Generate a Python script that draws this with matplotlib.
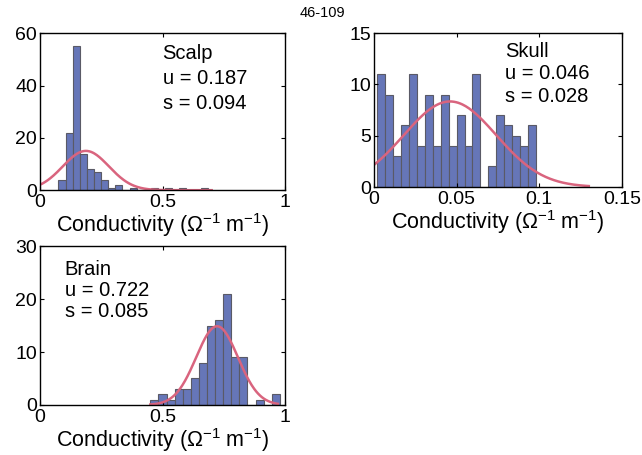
import numpy as np
import matplotlib
matplotlib.use("Agg")
from matplotlib import pyplot as plt

plt.rcParams['font.family'] = ['Liberation Sans', 'DejaVu Sans']
plt.rcParams['mathtext.fontset'] = 'custom'
plt.rcParams['mathtext.rm'] = 'Liberation Sans'
plt.rcParams['mathtext.it'] = 'Liberation Sans:italic'

# histogram counts (left edge of first bin, bin width, counts)
scalp_start, scalp_width = 0.075, 0.029
scalp_counts = [4, 22, 55, 14, 8, 7, 4, 1, 2, 0, 1, 0, 0, 1, 0, 1, 0, 1, 0, 0, 1]
scalp_u, scalp_s = 0.187, 0.094

skull_start, skull_width = 0.002, 0.0048
skull_counts = [11, 9, 3, 6, 11, 4, 9, 4, 9, 4, 7, 4, 11, 0, 2, 7, 6, 5, 4, 6]
skull_u, skull_s = 0.046, 0.028

brain_start, brain_width = 0.45, 0.033
brain_counts = [1, 2, 1, 3, 3, 5, 8, 15, 16, 21, 9, 9, 0, 1, 0, 2]
brain_u, brain_s = 0.722, 0.085

bar_color = '#6676b8'
edge_color = '#5a5a66'
fit_color = '#d9647e'
fs = 14
xlabel = r'Conductivity ($\Omega^{-1}\;$m$^{-1}$)'


def panel(ax, start, width, counts, u, s, name, fit_range, xlim, ylim,
          xticks, xticklabels, yticks, text_xy):
    counts = np.array(counts)
    left = start + width * np.arange(len(counts))
    ax.bar(left, counts, width=width, align='edge', color=bar_color,
           edgecolor=edge_color, linewidth=0.8)
    # normal fit scaled like histfit
    x = np.linspace(fit_range[0], fit_range[1], 200)
    y = counts.sum() * width / (s * np.sqrt(2 * np.pi)) * np.exp(-0.5 * ((x - u) / s) ** 2)
    ax.plot(x, y, color=fit_color, lw=1.8)
    ax.set_xlim(xlim)
    ax.set_ylim(ylim)
    ax.set_xticks(xticks)
    ax.set_xticklabels(xticklabels)
    ax.set_yticks(yticks)
    ax.tick_params(direction='in', length=3, labelsize=fs, top=True, right=True)
    ax.tick_params(axis='x', pad=3)
    ax.tick_params(axis='y', pad=2)
    ax.set_xlabel(xlabel, fontsize=15.5, labelpad=0)
    tx, ty, dy = text_xy
    ax.text(tx, ty, name, transform=ax.transAxes, fontsize=fs + 0.5, va='center')
    ax.text(tx, ty - dy, 'u = %.3f' % u, transform=ax.transAxes, fontsize=fs + 0.5, va='center')
    ax.text(tx, ty - 2 * dy, 's = %.3f' % s, transform=ax.transAxes, fontsize=fs + 0.5, va='center')
    for sp in ax.spines.values():
        sp.set_linewidth(1.0)


fig = plt.figure(figsize=(6.42, 4.55), dpi=100)
fig.text(0.503, 0.972, '46-109', ha='center', va='center', fontsize=10.5)

ax1 = fig.add_axes([0.0623, 0.582, 0.382, 0.345])
panel(ax1, scalp_start, scalp_width, scalp_counts, scalp_u, scalp_s, 'Scalp',
      (0, 0.7), (0, 1), (0, 60), [0, 0.5, 1], ['0', '0.5', '1'], [0, 20, 40, 60],
      (0.50, 0.87, 0.16))

ax2 = fig.add_axes([0.5826, 0.589, 0.386, 0.338])
panel(ax2, skull_start, skull_width, skull_counts, skull_u, skull_s, 'Skull',
      (0, 0.13), (0, 0.15), (0, 15), [0, 0.05, 0.1, 0.15], ['0', '0.05', '0.1', '0.15'],
      [0, 5, 10, 15], (0.53, 0.88, 0.145))

ax3 = fig.add_axes([0.0623, 0.110, 0.382, 0.349])
panel(ax3, brain_start, brain_width, brain_counts, brain_u, brain_s, 'Brain',
      (0.45, 0.97), (0, 1), (0, 30), [0, 0.5, 1], ['0', '0.5', '1'], [0, 10, 20, 30],
      (0.10, 0.85, 0.13))

fig.savefig('out.png', dpi=100)
